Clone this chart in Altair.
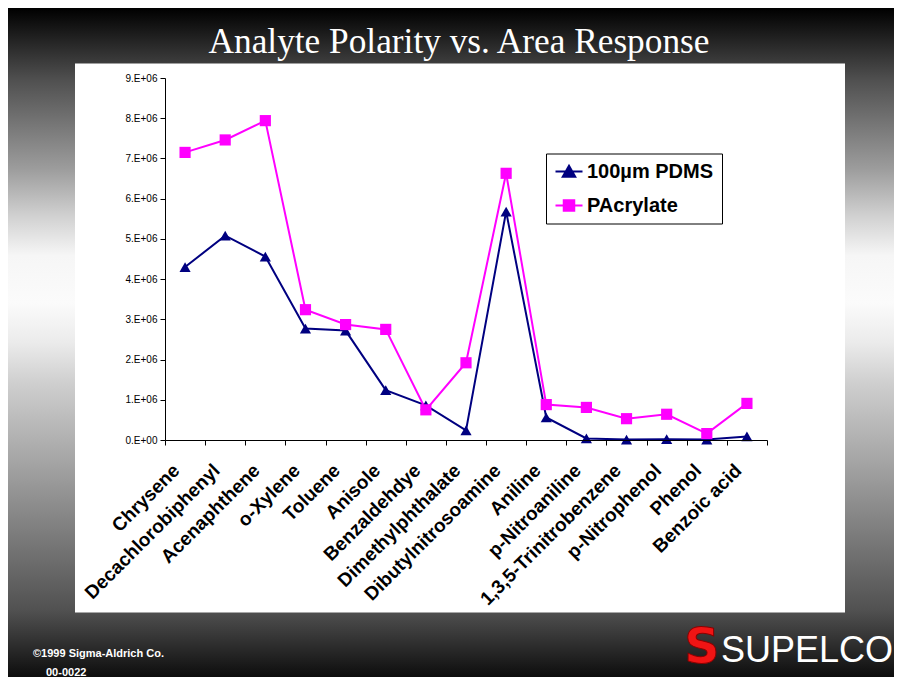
import altair as alt
import pandas as pd

# ---------------- data ----------------
categories = ["Chrysene", "Decachlorobiphenyl", "Acenaphthene", "o-Xylene", "Toluene",
              "Anisole", "Benzaldehdye", "Dimethylphthalate", "Dibutylnitrosoamine",
              "Aniline", "p-Nitroaniline", "1,3,5-Trinitrobenzene", "p-Nitrophenol",
              "Phenol", "Benzoic acid"]
pdms = [4.30e6, 5.08e6, 4.56e6, 2.77e6, 2.72e6, 1.24e6, 0.86e6, 0.24e6, 5.68e6,
        0.56e6, 0.04e6, 0.01e6, 0.02e6, 0.01e6, 0.09e6]
pacrylate = [7.15e6, 7.46e6, 7.94e6, 3.24e6, 2.87e6, 2.75e6, 0.75e6, 1.92e6, 6.63e6,
             0.88e6, 0.81e6, 0.53e6, 0.64e6, 0.16e6, 0.91e6]
series_names = ["100µm PDMS", "PAcrylate"]
series_colors = ["#000080", "#FF00FF"]
series_shapes = ["triangle-up", "square"]
y_ticks = [0, 1e6, 2e6, 3e6, 4e6, 5e6, 6e6, 7e6, 8e6, 9e6]
title_text = "Analyte Polarity vs. Area Response"
footer_lines = ["©1999 Sigma-Aldrich Co.", "00-0022"]
brand = "SUPELCO"

df = pd.DataFrame({
    "category": categories * 2,
    "idx": list(range(len(categories))) * 2,
    "series": [series_names[0]] * len(categories) + [series_names[1]] * len(categories),
    "value": pdms + pacrylate,
})
one = alt.Data(values=[{"a": 1}])

W, H = 602, 362
PAD = {"left": 157, "top": 70, "right": 127, "bottom": 237}

# ---------------- decoration ----------------
bg_grad = alt.LinearGradient(
    gradient="linear", x1=0, x2=0, y1=0, y2=1,
    stops=[
        alt.GradientStop(offset=0.0, color="#000000"),
        alt.GradientStop(offset=0.03, color="#161616"),
        alt.GradientStop(offset=0.108, color="#505050"),
        alt.GradientStop(offset=0.24, color="#9c9c9c"),
        alt.GradientStop(offset=0.31, color="#d0d0d0"),
        alt.GradientStop(offset=0.37, color="#f6f6f6"),
        alt.GradientStop(offset=0.44, color="#fbfbfb"),
        alt.GradientStop(offset=0.50, color="#ebebeb"),
        alt.GradientStop(offset=0.56, color="#cfcfcf"),
        alt.GradientStop(offset=0.68, color="#a4a4a4"),
        alt.GradientStop(offset=0.80, color="#777777"),
        alt.GradientStop(offset=0.90, color="#515151"),
        alt.GradientStop(offset=1.0, color="#0d0d0d"),
    ],
)
background = alt.Chart(one).mark_rect(fill=bg_grad).encode(
    x=alt.value(-PAD["left"]), x2=alt.value(W + PAD["right"]),
    y=alt.value(-PAD["top"]), y2=alt.value(H + PAD["bottom"]))
panel = alt.Chart(one).mark_rect(fill="white").encode(
    x=alt.value(-90), x2=alt.value(680), y=alt.value(-14.5), y2=alt.value(534.5))


def txt(text, x, y, size, color, font="Liberation Sans", weight="normal", align="left", **kw):
    return alt.Chart(one).mark_text(
        text=text, font=font, fontSize=size, fontWeight=weight, color=color,
        align=align, baseline="alphabetic", **kw).encode(x=alt.value(x), y=alt.value(y))


title = txt(title_text, 294, -25, 35.3, "white", font="Liberation Serif", align="center")
foot1 = txt(footer_lines[0], -132, 579, 11, "white", weight="bold")
foot2 = txt(footer_lines[1], -119, 598, 11, "white", weight="bold")
logo_s = txt("S", 537, 585, 49, "#f01414", font="DejaVu Sans", weight="bold", align="center",
             stroke="#8a0000", strokeWidth=1)
supelco = txt(brand, 556, 584, 36, "white")

# ---------------- chart ----------------
x_enc = alt.X(
    "category:N", sort=categories,
    scale=alt.Scale(type="band", paddingInner=0, paddingOuter=0),
    axis=alt.Axis(title=None, labelAngle=315, labelAlign="right", labelBaseline="middle",
                  labelPadding=22, labelOffset=-9, labelFont="Liberation Sans",
                  labelFontSize=19, labelFontWeight="bold", labelColor="black",
                  labelLimit=400, labelOverlap=False, tickBand="extent", tickSize=5,
                  tickColor="black", domainColor="black", grid=False, zindex=1))
y_enc = alt.Y(
    "value:Q", scale=alt.Scale(domain=[0, 9e6], nice=False),
    axis=alt.Axis(title=None, values=y_ticks,
                  labelExpr="datum.value == 0 ? '0.E+00' : format(datum.value / 1000000, 'd') + '.E+06'",
                  labelFont="Liberation Sans", labelFontSize=10, labelColor="black",
                  labelPadding=3, tickSize=5, tickColor="black", domainColor="black",
                  grid=False, zindex=1))
color_scale = alt.Scale(domain=series_names, range=series_colors)

tri_path = "M-2.7,0H2.7M-1.25,1.05L0,-1.15L1.25,1.05Z"
sq_path = "M-2.7,0H2.7M-1.05,-1.05H1.05V1.05H-1.05Z"
is_b = f"datum.value === '{series_names[1]}'"
legend = alt.Legend(
    title=None, orient="none", legendX=381, legendY=75.5, direction="vertical",
    strokeColor="black", fillColor="white", padding=8,
    labelFont="Liberation Sans", labelFontSize=20, labelFontWeight="bold", labelColor="black",
    symbolSize=100, symbolOffset=5, labelOffset=8, rowPadding=14, symbolStrokeWidth=2,
    symbolType=alt.ExprRef(expr=f"{is_b} ? '{sq_path}' : '{tri_path}'"),
    symbolFillColor=alt.ExprRef(expr=f"{is_b} ? '{series_colors[1]}' : '{series_colors[0]}'"),
    zindex=2,
)

lines = alt.Chart(df).mark_line(strokeWidth=2).encode(
    x=x_enc, y=y_enc,
    color=alt.Color("series:N", scale=color_scale, legend=legend),
    order=alt.Order("idx:Q"))

point_layers = []
for name, col, shp in zip(series_names, series_colors, series_shapes):
    point_layers.append(
        alt.Chart(df).transform_filter(alt.datum.series == name)
        .mark_point(filled=True, shape=shp, color=col, size=125, opacity=1)
        .encode(x=x_enc, y=y_enc))

chart = alt.layer(
    background, panel, lines, *point_layers, title, foot1, foot2, logo_s, supelco
).properties(
    width=W, height=H, padding=PAD, autosize=alt.AutoSizeParams(type="none")
).configure_view(stroke=None)

chart.save("out.html", embed_options={"renderer": "svg", "actions": False})
